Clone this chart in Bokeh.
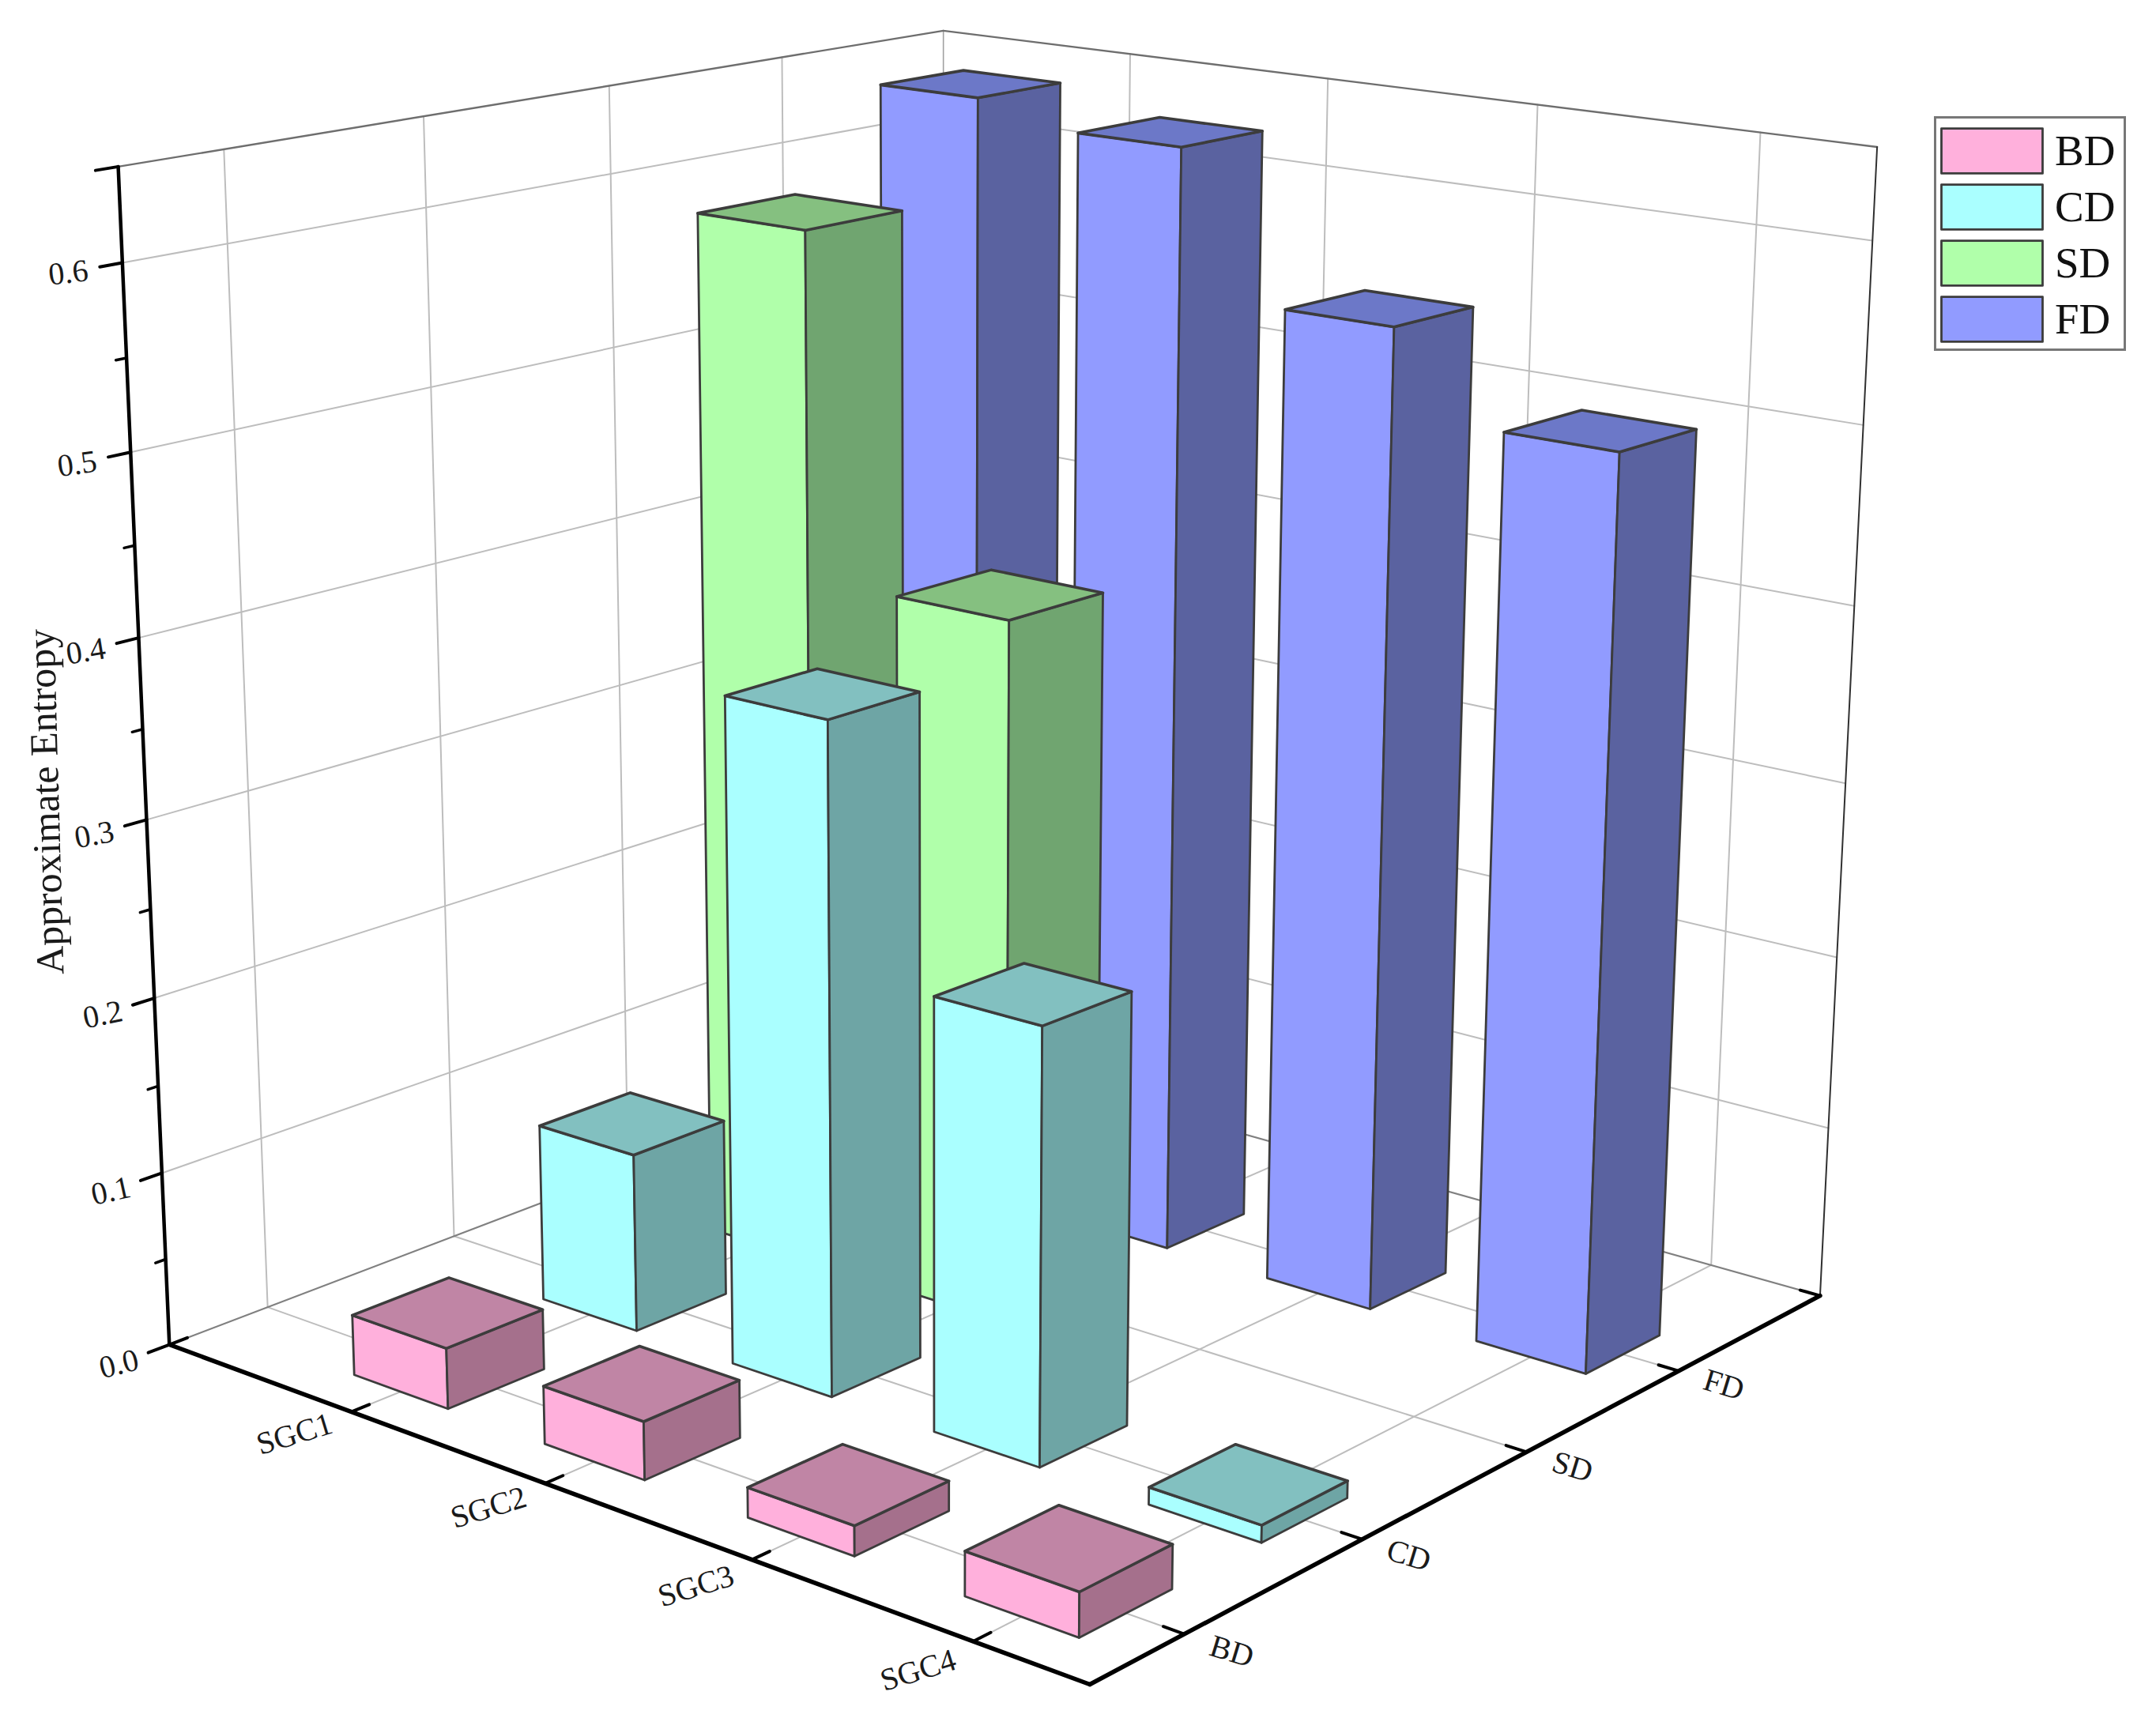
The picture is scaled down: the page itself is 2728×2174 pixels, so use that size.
import numpy as np
from bokeh.plotting import figure
from bokeh.models import Range1d, Legend, LegendItem, ColumnDataSource
from bokeh.core.properties import value
from bokeh.embed import file_html
from bokeh.resources import INLINE

# ---- data ----
groups = ["SGC1", "SGC2", "SGC3", "SGC4"]
series = ["BD", "CD", "SD", "FD"]
BD = [0.0345, 0.0325, 0.0165, 0.024]
CD = [0.103, 0.376, 0.2415, 0.0095]
SD = [0.595, 0.402, 0.0, 0.0]
FD = [0.649, 0.637, 0.557, 0.5105]
z_ticks = [0.0, 0.1, 0.2, 0.3, 0.4, 0.5, 0.6]
z_minor = [0.05, 0.15, 0.25, 0.35, 0.45, 0.55]
z_title = "Approximate Entropy"

# ---- axis limits and style ----
X0, X1, V0, V1, Z0, Z1 = 0.0, 4.5, 0.5, 5.0, 0.0, 0.65
BAR_W = {"BD": 0.5, "CD": 0.5, "SD": 0.55, "FD": 0.5}
FONT = "Liberation Serif"
colors = {
    "BD": ("#ffb0dc", "#a5708c", "#c085a5"),
    "CD": ("#aaffff", "#6ea5a5", "#82c0c0"),
    "SD": ("#b0ffaa", "#70a570", "#85c080"),
    "FD": ("#919bff", "#5a62a0", "#6c78c8"),
}
EDGE = "#3c3c3c"

# ---- camera: fitted from where the box corners and ticks sit on the page ----
calib = [
    ((0, .5, 0), (212, 1702)), ((1, .5, 0), (446, 1786)), ((2, .5, 0), (692, 1877.5)),
    ((3, .5, 0), (953, 1972)), ((4, .5, 0), (1235, 2076)), ((4.5, .5, 0), (1378, 2131)),
    ((4.5, 1, 0), (1494, 2067.5)), ((4.5, 2, 0), (1724, 1947)), ((4.5, 3, 0), (1928, 1837.5)),
    ((4.5, 4, 0), (2122, 1735)), ((4.5, 5, 0), (2304, 1641)), ((0, 5, 0), (1194, 1325)),
    ((0, 5, .65), (1193, 41)), ((4.5, 5, .65), (2375, 183)), ((0, .5, .65), (149, 210)),
    ((0, .5, .6), (155, 332)), ((0, .5, .5), (165, 572)), ((0, .5, .4), (175, 806)),
    ((0, .5, .3), (184, 1037)), ((0, .5, .2), (194, 1263)), ((0, .5, .1), (203, 1483)),
    ((0, 1, 0), (337, 1653.5)), ((0, 2, 0), (574, 1564.5)),
]
A = []
for (x, v, z), (u, w) in calib:
    u, w = u / 1000, w / 1000
    z = z * 5
    A.append([x, v, z, 1, 0, 0, 0, 0, -u * x, -u * v, -u * z, -u])
    A.append([0, 0, 0, 0, x, v, z, 1, -w * x, -w * v, -w * z, -w])
CAM = np.linalg.svd(np.array(A, float))[2][-1].reshape(3, 4)


def proj(x, v, z):
    h = CAM @ np.array([x, v, z * 5, 1.0])
    return float(h[0] / h[2] * 1000), float(h[1] / h[2] * 1000)


def seg(a, b):
    pa, pb = proj(*a), proj(*b)
    return [pa[0], pb[0]], [pa[1], pb[1]]


W, H = 2700, 2150
p = figure(width=W, height=H, x_range=Range1d(0, W), y_range=Range1d(H, 0),
           output_backend="svg", toolbar_location=None, min_border=0)
p.axis.visible = False
p.grid.visible = False
p.outline_line_color = None
p.background_fill_color = "white"


def lines(segs, color, width):
    xs, ys = zip(*[seg(a, b) for a, b in segs])
    p.multi_line(list(xs), list(ys), line_color=color, line_width=width, line_cap="round")


GRID = "#bdbdbd"
pos_x = [1, 2, 3, 4]
pos_v = [1, 2, 3, 4]
grid = []
grid += [((x, V0, 0), (x, V1, 0)) for x in pos_x]
grid += [((X0, v, 0), (X1, v, 0)) for v in pos_v]
grid += [((X0, v, 0), (X0, v, Z1)) for v in pos_v]
grid += [((x, V1, 0), (x, V1, Z1)) for x in pos_x]
grid += [((X0, V0, z), (X0, V1, z)) for z in z_ticks[1:]]
grid += [((X0, V1, z), (X1, V1, z)) for z in z_ticks[1:]]
lines(grid, GRID, 2)
lines([((X0, V1, 0), (X0, V1, Z1))], "#a0a0a0", 1.6)
lines([((X0, V0, 0), (X0, V1, 0)), ((X0, V1, 0), (X1, V1, 0))], "#808080", 2.2)
lines([((X0, V0, Z1), (X0, V1, Z1)), ((X0, V1, Z1), (X1, V1, Z1))], "#6e6e6e", 2.4)
lines([((X1, V1, 0), (X1, V1, Z1))], "#303030", 2)

# bars, back to front
renderers = {}
for name, vals, v_c in reversed(list(zip(series, [BD, CD, SD, FD], pos_v))):
    front, side, top = colors[name]
    bw = BAR_W[name]
    xs, ys, fills, widths = [], [], [], []
    for x_c, h in zip(pos_x, vals):
        if h <= 0:
            continue
        a, b = x_c - bw / 2, x_c + bw / 2
        c, d = v_c - bw / 2, v_c + bw / 2
        faces = [
            ([(a, c, 0), (b, c, 0), (b, c, h), (a, c, h)], front, 2.8),
            ([(b, c, 0), (b, d, 0), (b, d, h), (b, c, h)], side, 2.8),
            ([(a, c, h), (b, c, h), (b, d, h), (a, d, h)], top, 3.6),
        ]
        for pts, col, lw in faces:
            q = [proj(*t) for t in pts]
            xs.append([t[0] for t in q])
            ys.append([t[1] for t in q])
            fills.append(col)
            widths.append(lw)
    src = ColumnDataSource(dict(xs=xs, ys=ys, fill=fills, lw=widths))
    renderers[name] = p.patches("xs", "ys", source=src, fill_color="fill", fill_alpha=1,
                                line_color=EDGE, line_width="lw", line_join="round")

# axes
BLACK = "#000000"
lines([((X0, V0, 0), (X0, V0, Z1))], BLACK, 4.5)
lines([((X0, V0, 0), (X1, V0, 0)), ((X1, V0, 0), (X1, V1, 0))], BLACK, 5.5)
lines([((X0, V0, z), (X0, V0 - 0.105, z)) for z in z_ticks + [Z1]], BLACK, 4)
lines([((X0, V0, z), (X0, V0 - 0.05, z)) for z in z_minor], BLACK, 3.5)
lines([((x, V0, 0), (x, V0 + 0.09, 0)) for x in [0] + pos_x], BLACK, 4)
lines([((X1, v, 0), (X1 - 0.09, v, 0)) for v in pos_v + [5]], BLACK, 4)


def label(xs, ys, texts, angles, size, color="#1a1a1a", align="center", baseline="middle"):
    p.text(xs, ys, text=texts, angle=angles, text_font=value(FONT), text_font_size=size,
           text_color=color, text_align=align, text_baseline=baseline)


lab = [proj(x, V0 - 0.36, 0) for x in pos_x]
label([q[0] + 20 for q in lab], [q[1] - 10 for q in lab], groups, [np.radians(17)] * 4, "40px")
lab = [proj(X1 + 0.2, v, 0) for v in pos_v]
label([q[0] for q in lab], [q[1] for q in lab], series, [np.radians(-17)] * 4, "40px")

lab = [proj(X0, V0 - 0.25, z) for z in z_ticks]
ang = [0.65 * np.arctan2(proj(X0, V0, z)[1] - proj(X0, V0 + .1, z)[1],
                         proj(X0, V0 + .1, z)[0] - proj(X0, V0, z)[0]) for z in z_ticks]
label([q[0] for q in lab], [q[1] for q in lab], [f"{z:.1f}" for z in z_ticks], ang, "40px")

mid = proj(X0, V0, 0.31)
label([mid[0] - 127], [mid[1]], [z_title], [np.radians(91.6)], "50px")

# legend: frame drawn separately so that swatches and frame both land where they should
p.patch([2448, 2688, 2688, 2448], [148, 148, 442, 442], fill_color="white",
        line_color="#777777", line_width=3, line_join="miter")
items = [LegendItem(label=value(n), renderers=[renderers[n]], index=0) for n in series]
leg = Legend(items=items, location=(2440, H - 439), orientation="vertical",
             glyph_width=160, glyph_height=71, label_standoff=0, spacing=0,
             padding=2, margin=0, label_text_font=FONT, label_text_font_size="55px",
             label_text_color="#111111", label_height=62, border_line_color=None,
             background_fill_alpha=0)
p.add_layout(leg)

open("out.html", "w").write(file_html(p, INLINE))
